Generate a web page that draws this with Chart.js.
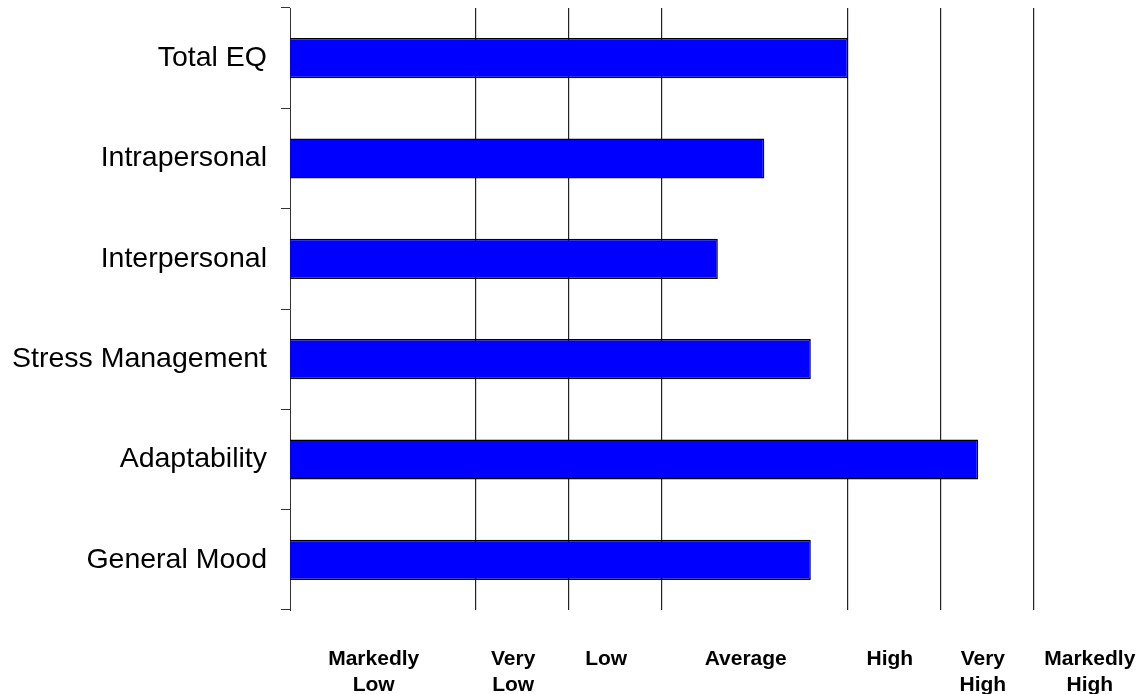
<!DOCTYPE html>
<html>
<head>
<meta charset="utf-8">
<script src="https://cdn.jsdelivr.net/npm/chart.js@4"></script>
<style>
  html, body { margin: 0; padding: 0; background: #fff; }
  #wrap { width: 1141px; height: 694px; }
</style>
</head>
<body>
<div id="wrap"><canvas id="eqChart"></canvas></div>
<script>
// scales and scores
const scaleNames = ["Total EQ", "Intrapersonal", "Interpersonal", "Stress Management", "Adaptability", "General Mood"];
const scores = [110, 101, 96, 106, 124, 106];

// band labels along the bottom and where they sit on the score axis
const bandLabels = [["Markedly", "Low"], ["Very", "Low"], "Low", "Average", "High", ["Very", "High"], ["Markedly", "High"]];
const bandLabelAt = [59, 74, 84, 99, 114.5, 124.5, 136];

// visible vertical lines
const bandLines = [70, 80, 90, 110, 120, 130];

const scoreMin = 50;
const scoreMax = 140;

const ctx = document.getElementById("eqChart").getContext("2d");
new Chart(ctx, {
  type: "bar",
  data: {
    labels: scaleNames,
    datasets: [{
      data: scores,
      backgroundColor: "#0000ff",
      borderColor: "#000000",
      borderWidth: 1.5,
      borderSkipped: false,
      barPercentage: 0.4,
      categoryPercentage: 1
    }]
  },
  options: {
    indexAxis: "y",
    responsive: true,
    maintainAspectRatio: false,
    animation: false,
    layout: { padding: { top: 8, right: 14, left: 0, bottom: 0 } },
    plugins: { legend: { display: false }, tooltip: { enabled: false } },
    scales: {
      y: {
        grid: { display: true, drawOnChartArea: false, drawTicks: true, tickLength: 9, offset: true, color: "#333" },
        border: { display: true, color: "#333", width: 1 },
        ticks: { color: "#000", padding: 14, font: { family: "Liberation Sans, Arial", size: 28.5 } },
        afterFit: s => { s.width = 290; s.paddingTop = 0; s.paddingBottom = 0; }
      },
      x: {
        type: "linear",
        min: scoreMin,
        max: scoreMax,
        afterBuildTicks: a => { a.ticks = bandLines.map(v => ({ value: v })); },
        grid: { drawTicks: false, color: "#222", lineWidth: 1.2 },
        border: { display: false },
        ticks: { display: false },
        afterFit: s => { s.height = 0; s.paddingLeft = 0; s.paddingRight = 0; }
      },
      xBands: {
        type: "linear",
        position: "bottom",
        min: scoreMin,
        max: scoreMax,
        afterBuildTicks: a => { a.ticks = bandLabelAt.map(v => ({ value: v })); },
        grid: { display: false },
        border: { display: false },
        ticks: {
          autoSkip: false,
          maxRotation: 0,
          padding: 28,
          color: "#000",
          font: { family: "Liberation Sans, Arial", size: 21, weight: "bold", lineHeight: 1.24 },
          callback: (v, i) => bandLabels[i]
        },
        afterFit: s => { s.height = 84; s.paddingLeft = 0; s.paddingRight = 0; }
      }
    }
  }
});
</script>
</body>
</html>
